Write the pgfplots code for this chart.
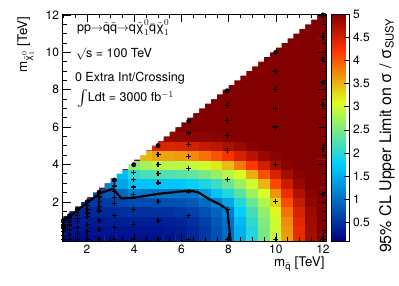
\documentclass[border=0pt]{standalone}
\usepackage{fontspec}
\setmainfont{TeX Gyre Heros}
\usepackage{amsmath}
\usepackage{graphicx}
\usepackage{pgfplots}
\pgfplotsset{compat=1.18}
\begin{document}
\begin{tikzpicture}
\useasboundingbox (0,0) rectangle (399pt,286pt);
\begin{axis}[
  at={(62.5pt,45pt)}, anchor=south west,
  scale only axis, width=263.5pt, height=227pt,
  xmin=0.96, xmax=12.13, ymin=-0.1, ymax=12.05,
  y dir=normal,
  xtick={2,4,6,8,10,12}, ytick={2,4,6,8,10,12},
  minor xtick={1,1.5,...,12}, minor ytick={0,0.5,...,12},
  major tick length=8pt, minor tick length=4pt,
  every tick/.style={black, line width=0.5pt},
  axis line style={line width=0.6pt},
  tick label style={font=\fontsize{12}{12}\selectfont},
  /pgf/number format/assume math mode=true,
  axis on top,
  colormap={rootpal}{rgb(0cm)=(0,0,0.51); rgb(34cm)=(0,0.81,1); rgb(61cm)=(0.87,1,0.12); rgb(84cm)=(1,0.2,0); rgb(100cm)=(0.51,0,0)},
  point meta min=0.1, point meta max=5,
  colorbar,
  colorbar style={
    at={(parent axis.north east)}, anchor=north west, xshift=-3pt,
    scale only axis, width=18pt, height=227pt,
    ytick={0.5,1,...,5}, ytick pos=right, yticklabel pos=right,
    tick align=inside, major tick length=6pt,
    tick label style={font=\fontsize{12}{12}\selectfont},
    /pgf/number format/assume math mode=true,
    ylabel={95\% CL Upper Limit on σ / σ\textsubscript{SUSY}},
    ylabel style={at={(axis description cs:3.306,0.9956)}, anchor=base east, font=\fontsize{16}{16}\selectfont},
  },
  xlabel={m$_{\tilde{\text{q}}}$ [TeV]},
  ylabel={m$_{\tilde{\text{χ}}^{0}_{1}}$ [TeV]},
  xlabel style={at={(axis description cs:1.0076,-0.1145)}, anchor=base east, font=\fontsize{13.3}{14}\selectfont},
  ylabel style={at={(axis description cs:-0.1347,1.0044)}, anchor=base east, font=\fontsize{13.3}{14}\selectfont},
]
\addplot[matrix plot*, shader=flat corner, draw=mapped color, y dir=normal, mesh/cols=23, point meta=explicit, forget plot] table[x index=0, y index=1, meta index=2] {
1 0 0.20
1.5 0 0.20
2 0 0.21
2.5 0 0.21
3 0 0.22
3.5 0 0.22
4 0 0.22
4.5 0 0.23
5 0 0.24
5.5 0 0.25
6 0 0.31
6.5 0 0.40
7 0 0.54
7.5 0 0.73
8 0 0.95
8.5 0 1.50
9 0 1.97
9.5 0 2.47
10 0 2.95
10.5 0 3.64
11 0 4.35
11.5 0 4.79
12 0 4.99
1 0.5 0.26
1.5 0.5 0.26
2 0.5 0.26
2.5 0.5 0.26
3 0.5 0.27
3.5 0.5 0.27
4 0.5 0.27
4.5 0.5 0.27
5 0.5 0.27
5.5 0.5 0.29
6 0.5 0.33
6.5 0.5 0.42
7 0.5 0.56
7.5 0.5 0.75
8 0.5 0.97
8.5 0.5 1.52
9 0.5 1.98
9.5 0.5 2.49
10 0.5 2.96
10.5 0.5 3.65
11 0.5 4.35
11.5 0.5 4.79
12 0.5 4.99
1 1 0.32
1.5 1 0.32
2 1 0.32
2.5 1 0.32
3 1 0.33
3.5 1 0.34
4 1 0.35
4.5 1 0.35
5 1 0.35
5.5 1 0.36
6 1 0.40
6.5 1 0.48
7 1 0.62
7.5 1 0.82
8 1 1.02
8.5 1 1.60
9 1 2.05
9.5 1 2.55
10 1 3.00
10.5 1 3.72
11 1 4.39
11.5 1 4.81
12 1 5
1 1.5 5
1.5 1.5 0.41
2 1.5 0.41
2.5 1.5 0.42
3 1.5 0.43
3.5 1.5 0.47
4 1.5 0.50
4.5 1.5 0.50
5 1.5 0.50
5.5 1.5 0.51
6 1.5 0.55
6.5 1.5 0.63
7 1.5 0.75
7.5 1.5 0.90
8 1.5 1.12
8.5 1.5 1.76
9 1.5 2.19
9.5 1.5 2.66
10 1.5 3.13
10.5 1.5 3.87
11 1.5 4.47
11.5 1.5 4.85
12 1.5 5
1 2 5
1.5 2 5
2 2 0.54
2.5 2 0.56
3 2 0.59
3.5 2 0.66
4 2 0.72
4.5 2 0.72
5 2 0.72
5.5 2 0.73
6 2 0.77
6.5 2 0.82
7 2 0.98
7.5 2 1.15
8 2 1.45
8.5 2 1.97
9 2 2.40
9.5 2 2.83
10 2 3.35
10.5 2 4.07
11 2 4.58
11.5 2 4.91
12 2 5
1 2.5 5
1.5 2.5 5
2 2.5 5
2.5 2.5 0.75
3 2.5 0.80
3.5 2.5 0.94
4 2.5 1.12
4.5 2.5 1.08
5 2.5 1.05
5.5 2.5 1.04
6 2.5 1.03
6.5 2.5 1.06
7 2.5 1.35
7.5 2.5 1.69
8 2.5 1.95
8.5 2.5 2.30
9 2.5 2.70
9.5 2.5 3.05
10 2.5 3.68
10.5 2.5 4.31
11 2.5 4.72
11.5 2.5 4.95
12 2.5 5
1 3 5
1.5 3 5
2 3 5
2.5 3 5
3 3 1.15
3.5 3 1.43
4 3 1.68
4.5 3 1.68
5 3 1.68
5.5 3 1.69
6 3 1.73
6.5 3 1.81
7 3 1.94
7.5 3 2.13
8 3 2.39
8.5 3 2.70
9 3 2.99
9.5 3 3.49
10 3 4.10
10.5 3 4.55
11 3 4.87
11.5 3 5
12 3 5
1 3.5 5
1.5 3.5 5
2 3.5 5
2.5 3.5 5
3 3.5 5
3.5 3.5 1.60
4 3.5 2.05
4.5 3.5 2.20
5 3.5 2.25
5.5 3.5 2.25
6 3.5 2.29
6.5 3.5 2.36
7 3.5 2.49
7.5 3.5 2.66
8 3.5 2.86
8.5 3.5 3.12
9 3.5 3.54
9.5 3.5 4.06
10 3.5 4.48
10.5 3.5 4.79
11 3.5 4.95
11.5 3.5 5
12 3.5 5
1 4 5
1.5 4 5
2 4 5
2.5 4 5
3 4 5
3.5 4 5
4 4 2.60
4.5 4 2.75
5 4 2.85
5.5 4 2.85
6 4 2.88
6.5 4 2.92
7 4 3.01
7.5 4 3.21
8 4 3.46
8.5 4 3.83
9 4 4.20
9.5 4 4.52
10 4 4.79
10.5 4 4.95
11 4 5
11.5 4 5
12 4 5
1 4.5 5
1.5 4.5 5
2 4.5 5
2.5 4.5 5
3 4.5 5
3.5 4.5 5
4 4.5 5
4.5 4.5 3.50
5 4.5 3.60
5.5 4.5 3.60
6 4.5 3.64
6.5 4.5 3.73
7 4.5 3.87
7.5 4.5 4.05
8 4.5 4.25
8.5 4.5 4.47
9 4.5 4.67
9.5 4.5 4.86
10 4.5 4.95
10.5 4.5 5
11 4.5 5
11.5 4.5 5
12 4.5 5
1 5 5
1.5 5 5
2 5 5
2.5 5 5
3 5 5
3.5 5 5
4 5 5
4.5 5 5
5 5 4.43
5.5 5 4.43
6 5 4.46
6.5 5 4.50
7 5 4.58
7.5 5 4.65
8 5 4.76
8.5 5 4.86
9 5 4.95
9.5 5 5
10 5 5
10.5 5 5
11 5 5
11.5 5 5
12 5 5
1 5.5 5
1.5 5.5 5
2 5.5 5
2.5 5.5 5
3 5.5 5
3.5 5.5 5
4 5.5 5
4.5 5.5 5
5 5.5 5
5.5 5.5 4.90
6 5.5 4.91
6.5 5.5 4.92
7 5.5 4.93
7.5 5.5 4.95
8 5.5 4.99
8.5 5.5 5
9 5.5 5
9.5 5.5 5
10 5.5 5
10.5 5.5 5
11 5.5 5
11.5 5.5 5
12 5.5 5
1 6 5
1.5 6 5
2 6 5
2.5 6 5
3 6 5
3.5 6 5
4 6 5
4.5 6 5
5 6 5
5.5 6 5
6 6 5
6.5 6 5
7 6 5
7.5 6 5
8 6 5
8.5 6 5
9 6 5
9.5 6 5
10 6 5
10.5 6 5
11 6 5
11.5 6 5
12 6 5
1 6.5 5
1.5 6.5 5
2 6.5 5
2.5 6.5 5
3 6.5 5
3.5 6.5 5
4 6.5 5
4.5 6.5 5
5 6.5 5
5.5 6.5 5
6 6.5 5
6.5 6.5 5
7 6.5 5
7.5 6.5 5
8 6.5 5
8.5 6.5 5
9 6.5 5
9.5 6.5 5
10 6.5 5
10.5 6.5 5
11 6.5 5
11.5 6.5 5
12 6.5 5
1 7 5
1.5 7 5
2 7 5
2.5 7 5
3 7 5
3.5 7 5
4 7 5
4.5 7 5
5 7 5
5.5 7 5
6 7 5
6.5 7 5
7 7 5
7.5 7 5
8 7 5
8.5 7 5
9 7 5
9.5 7 5
10 7 5
10.5 7 5
11 7 5
11.5 7 5
12 7 5
1 7.5 5
1.5 7.5 5
2 7.5 5
2.5 7.5 5
3 7.5 5
3.5 7.5 5
4 7.5 5
4.5 7.5 5
5 7.5 5
5.5 7.5 5
6 7.5 5
6.5 7.5 5
7 7.5 5
7.5 7.5 5
8 7.5 5
8.5 7.5 5
9 7.5 5
9.5 7.5 5
10 7.5 5
10.5 7.5 5
11 7.5 5
11.5 7.5 5
12 7.5 5
1 8 5
1.5 8 5
2 8 5
2.5 8 5
3 8 5
3.5 8 5
4 8 5
4.5 8 5
5 8 5
5.5 8 5
6 8 5
6.5 8 5
7 8 5
7.5 8 5
8 8 5
8.5 8 5
9 8 5
9.5 8 5
10 8 5
10.5 8 5
11 8 5
11.5 8 5
12 8 5
1 8.5 5
1.5 8.5 5
2 8.5 5
2.5 8.5 5
3 8.5 5
3.5 8.5 5
4 8.5 5
4.5 8.5 5
5 8.5 5
5.5 8.5 5
6 8.5 5
6.5 8.5 5
7 8.5 5
7.5 8.5 5
8 8.5 5
8.5 8.5 5
9 8.5 5
9.5 8.5 5
10 8.5 5
10.5 8.5 5
11 8.5 5
11.5 8.5 5
12 8.5 5
1 9 5
1.5 9 5
2 9 5
2.5 9 5
3 9 5
3.5 9 5
4 9 5
4.5 9 5
5 9 5
5.5 9 5
6 9 5
6.5 9 5
7 9 5
7.5 9 5
8 9 5
8.5 9 5
9 9 5
9.5 9 5
10 9 5
10.5 9 5
11 9 5
11.5 9 5
12 9 5
1 9.5 5
1.5 9.5 5
2 9.5 5
2.5 9.5 5
3 9.5 5
3.5 9.5 5
4 9.5 5
4.5 9.5 5
5 9.5 5
5.5 9.5 5
6 9.5 5
6.5 9.5 5
7 9.5 5
7.5 9.5 5
8 9.5 5
8.5 9.5 5
9 9.5 5
9.5 9.5 5
10 9.5 5
10.5 9.5 5
11 9.5 5
11.5 9.5 5
12 9.5 5
1 10 5
1.5 10 5
2 10 5
2.5 10 5
3 10 5
3.5 10 5
4 10 5
4.5 10 5
5 10 5
5.5 10 5
6 10 5
6.5 10 5
7 10 5
7.5 10 5
8 10 5
8.5 10 5
9 10 5
9.5 10 5
10 10 5
10.5 10 5
11 10 5
11.5 10 5
12 10 5
1 10.5 5
1.5 10.5 5
2 10.5 5
2.5 10.5 5
3 10.5 5
3.5 10.5 5
4 10.5 5
4.5 10.5 5
5 10.5 5
5.5 10.5 5
6 10.5 5
6.5 10.5 5
7 10.5 5
7.5 10.5 5
8 10.5 5
8.5 10.5 5
9 10.5 5
9.5 10.5 5
10 10.5 5
10.5 10.5 5
11 10.5 5
11.5 10.5 5
12 10.5 5
1 11 5
1.5 11 5
2 11 5
2.5 11 5
3 11 5
3.5 11 5
4 11 5
4.5 11 5
5 11 5
5.5 11 5
6 11 5
6.5 11 5
7 11 5
7.5 11 5
8 11 5
8.5 11 5
9 11 5
9.5 11 5
10 11 5
10.5 11 5
11 11 5
11.5 11 5
12 11 5
1 11.5 5
1.5 11.5 5
2 11.5 5
2.5 11.5 5
3 11.5 5
3.5 11.5 5
4 11.5 5
4.5 11.5 5
5 11.5 5
5.5 11.5 5
6 11.5 5
6.5 11.5 5
7 11.5 5
7.5 11.5 5
8 11.5 5
8.5 11.5 5
9 11.5 5
9.5 11.5 5
10 11.5 5
10.5 11.5 5
11 11.5 5
11.5 11.5 5
12 11.5 5
1 12 5
1.5 12 5
2 12 5
2.5 12 5
3 12 5
3.5 12 5
4 12 5
4.5 12 5
5 12 5
5.5 12 5
6 12 5
6.5 12 5
7 12 5
7.5 12 5
8 12 5
8.5 12 5
9 12 5
9.5 12 5
10 12 5
10.5 12 5
11 12 5
11.5 12 5
12 12 5
};
% white mask above the diagonal (staircase in steps of 0.25)
\addplot[const plot, fill=white, draw=none, forget plot] coordinates {
(0.75,1.0) (1.0,1.25) (1.25,1.5) (1.5,1.75) (1.75,2.0) (2.0,2.25) (2.25,2.5) (2.5,2.75) (2.75,3.0)
(3.0,3.25) (3.25,3.5) (3.5,3.75) (3.75,4.0) (4.0,4.25) (4.25,4.5) (4.5,4.75) (4.75,5.0)
(5.0,5.25) (5.25,5.5) (5.5,5.75) (5.75,6.0) (6.0,6.25) (6.25,6.5) (6.5,6.75) (6.75,7.0)
(7.0,7.25) (7.25,7.5) (7.5,7.75) (7.75,8.0) (8.0,8.25) (8.25,8.5) (8.5,8.75) (8.75,9.0)
(9.0,9.25) (9.25,9.5) (9.5,9.75) (9.75,10.0) (10.0,10.25) (10.25,10.5) (10.5,10.75) (10.75,11.0)
(11.0,11.25) (11.25,11.5) (11.5,11.75) (11.75,12.0) (12.0,12.25) (12.25,12.5)
(12.25,13) (0.75,13)
};
% contour sigma/sigma_SUSY = 1
\addplot[black, line width=2.2pt, line join=round, forget plot] coordinates {
(1.0,1.05) (1.28,1.22) (1.6,1.55) (2.0,1.95) (2.55,2.45) (3.1,2.7) (3.45,2.18) (4.0,2.22)
(5.0,2.42) (6.35,2.6) (6.72,2.5) (7.2,2.12) (7.65,1.85) (7.95,1.58) (8.1,-0.3)
};
% signal grid points
\addplot[only marks, mark=+, mark size=2.5pt, line width=1.2pt, black, forget plot] table {
1 0
1 0.2
1 0.4
1 0.6
1 0.7
1 0.8
1 0.9
1.26 0
1.26 0.252
1.26 0.504
1.26 0.756
1.26 0.882
1.26 1.008
1.26 1.134
1.58 0
1.58 0.316
1.58 0.632
1.58 0.948
1.58 1.106
1.58 1.264
1.58 1.422
2 0
2 0.4
2 0.8
2 1.2
2 1.4
2 1.6
2 1.8
2.51 0
2.51 0.502
2.51 1.004
2.51 1.506
2.51 1.757
2.51 2.008
2.51 2.259
3.16 0
3.16 0.632
3.16 1.264
3.16 1.896
3.16 2.212
3.16 2.528
3.16 2.844
3.98 0
3.98 0.796
3.98 1.592
3.98 2.388
3.98 2.786
3.98 3.184
3.98 3.582
5.01 0
5.01 1.002
5.01 2.004
5.01 3.006
5.01 3.507
5.01 4.008
5.01 4.509
6.31 0
6.31 1.262
6.31 2.524
6.31 3.786
6.31 4.417
6.31 5.048
6.31 5.679
7.94 0
7.94 1.588
7.94 3.176
7.94 4.764
7.94 5.558
7.94 6.352
7.94 7.146
10 0
10 2
10 4
10 6
10 7
10 8
10 9
12 0
12 2.4
12 4.8
12 7.2
12 8.4
12 9.6
12 10.8
};
\addplot[only marks, mark=*, mark size=2.2pt, black, forget plot] table {
1 1
1.26 1.26
1.58 1.58
2 2
2.51 2.51
3.16 3.16
3.98 3.98
5.01 5.01
6.31 6.31
7.94 7.94
10 10
12 12
};
\node[anchor=base west, inner sep=0pt, font=\fontsize{12.5}{13}\selectfont] at (rel axis cs:0.055,0.9207)
  {pp$\mathord{\rightarrow}\tilde{\text{q}}\tilde{\text{q}}\mathord{\rightarrow}$q$\tilde{\text{χ}}^{0}_{1}\bar{\text{q}}\tilde{\text{χ}}^{0}_{1}$};
\node[anchor=base west, inner sep=0pt, font=\fontsize{12.5}{13}\selectfont] at (rel axis cs:0.051,0.8093)
  {$\surd$s = 100 TeV};
\node[anchor=base west, inner sep=0pt, font=\fontsize{12.5}{13}\selectfont] at (rel axis cs:0.047,0.7048)
  {0 Extra Int/Crossing};
\node[anchor=base west, inner sep=0pt, font=\fontsize{12.5}{13}\selectfont] at (rel axis cs:0.055,0.6137)
  {\raisebox{-1pt}{\scalebox{1.35}{$\int$}}Ldt = 3000 fb$^{-1}$};
\end{axis}
\end{tikzpicture}
\end{document}
